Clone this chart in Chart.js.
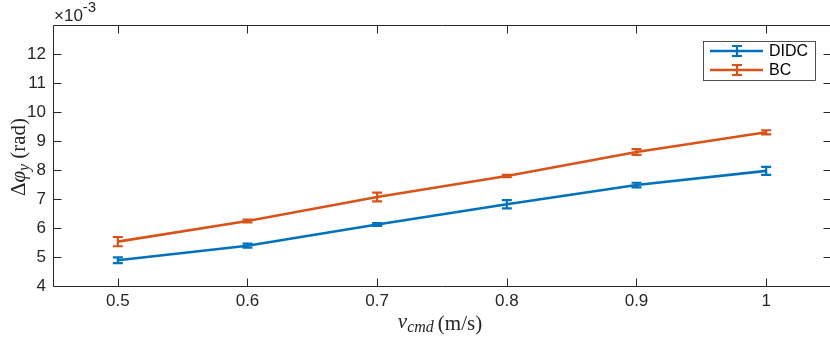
<!DOCTYPE html>
<html><head><meta charset="utf-8">
<script src="https://cdn.jsdelivr.net/npm/chart.js@4"></script>
<style>html,body{margin:0;padding:0;background:#fff;overflow:hidden}#wrap{width:834px;height:337px;position:relative}</style>
</head><body><div id="wrap"><canvas id="c"></canvas></div>
<script>
const categories = [0.5, 0.6, 0.7, 0.8, 0.9, 1.0];
const didc = [4.89, 5.39, 6.12, 6.82, 7.48, 7.97];
const didcErr = [0.10, 0.07, 0.05, 0.14, 0.08, 0.14];
const bc = [5.53, 6.24, 7.07, 7.79, 8.62, 9.30];
const bcErr = [0.16, 0.05, 0.15, 0.04, 0.10, 0.07];
const xTicks = [0.5, 0.6, 0.7, 0.8, 0.9, 1];
const yTicks = [4, 5, 6, 7, 8, 9, 10, 11, 12];
const seriesNames = ['DIDC', 'BC'];
const BLUE = '#0072BD', ORANGE = '#D95319', AX = '#262626';

const series = [
  {name: seriesNames[0], vals: didc, err: didcErr, color: BLUE},
  {name: seriesNames[1], vals: bc, err: bcErr, color: ORANGE}
];

function errBar(ctx, x, y1, y2, color, cap) {
  ctx.save();
  ctx.strokeStyle = color; ctx.lineWidth = 2.2; ctx.lineCap = 'butt';
  ctx.beginPath();
  ctx.moveTo(x, y1); ctx.lineTo(x, y2);
  ctx.moveTo(x - cap, y1); ctx.lineTo(x + cap, y1);
  ctx.moveTo(x - cap, y2); ctx.lineTo(x + cap, y2);
  ctx.stroke();
  ctx.restore();
}

function runs(ctx, parts, x, y) {
  parts.forEach(p => { ctx.font = p.f; p.w = ctx.measureText(p.t).width + (p.gap || 0); });
  const tot = parts.reduce((s, p) => s + p.w, 0);
  let sx = x - tot / 2;
  parts.forEach(p => { ctx.font = p.f; ctx.fillText(p.t, sx, y + (p.dy || 0)); sx += p.w; });
}

const deco = {
  id: 'deco',
  afterDatasetsDraw(chart) {
    const ctx = chart.ctx, xs = chart.scales.x, ys = chart.scales.y, a = chart.chartArea;
    series.forEach(s => {
      s.vals.forEach((v, i) => {
        const x = xs.getPixelForValue(categories[i]);
        errBar(ctx, x, ys.getPixelForValue(v + s.err[i]), ys.getPixelForValue(v - s.err[i]), s.color, 5);
      });
    });
    ctx.save();
    ctx.strokeStyle = AX; ctx.lineWidth = 1;
    const L = Math.round(a.left) + 0.5, R = Math.round(a.right) + 0.5, T = Math.round(a.top) + 0.5, B = Math.round(a.bottom) + 0.5;
    ctx.beginPath();
    ctx.rect(L, T, R - L, B - T);
    ctx.stroke();
    const tl = 8;
    ctx.beginPath();
    xTicks.forEach(t => {
      const x = Math.round(xs.getPixelForValue(t)) + 0.5;
      ctx.moveTo(x, B); ctx.lineTo(x, B - tl);
      ctx.moveTo(x, T); ctx.lineTo(x, T + tl);
    });
    yTicks.forEach(t => {
      const y = Math.round(ys.getPixelForValue(t)) + 0.5;
      ctx.moveTo(L, y); ctx.lineTo(L + tl, y);
      ctx.moveTo(R, y); ctx.lineTo(R - tl, y);
    });
    ctx.stroke();
    // exponent label
    ctx.fillStyle = AX;
    ctx.textBaseline = 'alphabetic'; ctx.textAlign = 'left';
    ctx.font = '17px "Liberation Sans", Arial, sans-serif';
    ctx.fillText('\u00d710', 54, 21);
    const w = ctx.measureText('\u00d710').width;
    ctx.font = '15px "Liberation Sans", Arial, sans-serif';
    ctx.fillText('-3', 54 + w, 12);
    // x axis label
    const SER = '"Liberation Serif", "DejaVu Serif", serif';
    runs(ctx, [
      {t: 'v', f: 'italic 21px ' + SER, dy: -2},
      {t: 'cmd', f: 'italic 16px ' + SER, dy: 2, gap: 4},
      {t: '(m/s)', f: '21px ' + SER}
    ], 440, 330);
    // y axis label
    ctx.save();
    ctx.translate(25, 157);
    ctx.rotate(-Math.PI / 2);
    runs(ctx, [
      {t: '\u0394', f: '21px ' + SER},
      {t: '\u03c6', f: 'italic 21px ' + SER},
      {t: 'y', f: 'italic 16px ' + SER, dy: 4, gap: 5},
      {t: '(rad)', f: '21px ' + SER}
    ], 0, 0);
    ctx.restore();
    // legend
    const lx = 703.5, ly = 41.5, lw = 112, lh = 39;
    ctx.fillStyle = '#fff';
    ctx.fillRect(lx, ly, lw, lh);
    ctx.strokeStyle = AX; ctx.lineWidth = 0.8;
    ctx.strokeRect(lx, ly, lw, lh);
    series.forEach((s, i) => {
      const y = 51 + i * 19;
      ctx.strokeStyle = s.color; ctx.lineWidth = 2.5;
      ctx.beginPath(); ctx.moveTo(710, y); ctx.lineTo(763, y); ctx.stroke();
      errBar(ctx, 737, y - 5, y + 5, s.color, 5);
      ctx.fillStyle = '#000';
      ctx.font = '16px "Liberation Sans", Arial, sans-serif';
      ctx.textBaseline = 'middle';
      ctx.fillText(s.name, 769, y + 1);
    });
    ctx.restore();
  }
};

new Chart(document.getElementById('c'), {
  type: 'scatter',
  data: {
    datasets: series.map(s => ({
      label: s.name,
      data: categories.map((c, i) => ({x: c, y: s.vals[i]})),
      showLine: true,
      borderColor: s.color,
      backgroundColor: s.color,
      borderWidth: 2.6,
      pointRadius: 0,
      pointHoverRadius: 0
    }))
  },
  options: {
    responsive: true,
    maintainAspectRatio: false,
    animation: false,
    events: [],
    layout: {padding: {top: 25, right: 3, left: 0, bottom: 0}},
    plugins: {legend: {display: false}, tooltip: {enabled: false}},
    scales: {
      x: {
        type: 'linear', min: 0.45, max: 1.05,
        afterBuildTicks: s => { s.ticks = xTicks.map(v => ({value: v})); },
        afterFit: s => { s.height = 51; },
        grid: {display: false, drawTicks: false},
        border: {display: false},
        ticks: {padding: 5, color: AX, font: {family: '"Liberation Sans", Arial, sans-serif', size: 17},
          callback: v => String(v), maxRotation: 0, autoSkip: false}
      },
      y: {
        min: 4, max: 13,
        afterBuildTicks: s => { s.ticks = yTicks.map(v => ({value: v})); },
        afterFit: s => { s.width = 53; },
        grid: {display: false, drawTicks: false},
        border: {display: false},
        ticks: {padding: 7, color: AX, font: {family: '"Liberation Sans", Arial, sans-serif', size: 17},
          callback: v => String(v), autoSkip: false}
      }
    }
  },
  plugins: [deco]
});
</script>
</body></html>
